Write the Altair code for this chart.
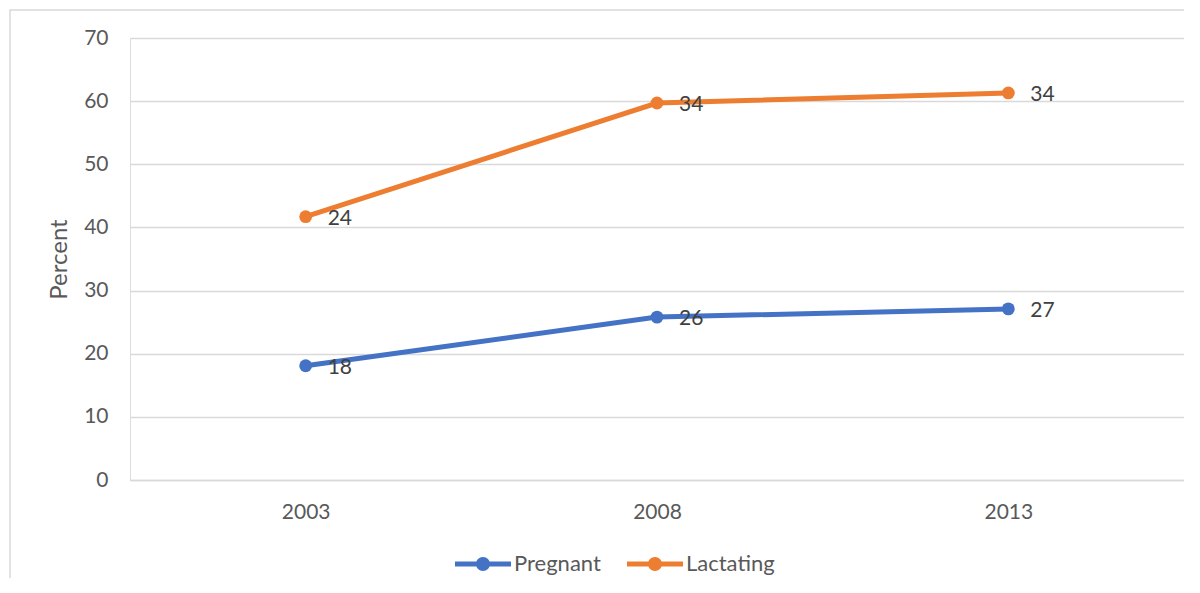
import altair as alt
import pandas as pd

years = ["2003", "2008", "2013"]
series_names = ["Pregnant", "Lactating"]
pregnant = [18.1, 25.8, 27.1]
lactating = [41.7, 59.7, 61.3]
pregnant_labels = ["18", "26", "27"]
lactating_labels = ["24", "34", "34"]
y_ticks = [0, 10, 20, 30, 40, 50, 60, 70]
colors = ["#4472C4", "#ED7D31"]
title_text = "and lactating women"

rows = []
for name, vals, labs in [("Pregnant", pregnant, pregnant_labels), ("Lactating", lactating, lactating_labels)]:
    for yr, v, lb in zip(years, vals, labs):
        rows.append({"Year": yr, "Series": name, "Value": v, "Label": lb})
df = pd.DataFrame(rows)

FONT = "Lato"
legend_path = ("M-1,-0.09L1,-0.09L1,0.09L-1,0.09Z "
               "M0.25,0A0.25,0.25,0,1,1,-0.25,0A0.25,0.25,0,1,1,0.25,0Z")

x_enc = alt.X("Year:N", sort=years, title=None,
              scale=alt.Scale(type="point", padding=0.5),
              axis=alt.Axis(labelAngle=0, labelFontSize=21, labelColor="#595959",
                            labelFont=FONT, labelPadding=21, ticks=False,
                            domainColor="#D9D9D9", domainWidth=1.3, grid=False))
y_enc = alt.Y("Value:Q", title="Percent",
              scale=alt.Scale(domain=[0, 70], nice=False),
              axis=alt.Axis(values=y_ticks, labelFontSize=21, labelColor="#595959",
                            labelFont=FONT, labelPadding=22, ticks=False, domain=False,
                            gridColor="#D9D9D9", gridWidth=1.3,
                            titleFont=FONT, titleFontSize=24, titleColor="#595959",
                            titleFontWeight="normal", titlePadding=12))
color_scale = alt.Scale(domain=series_names, range=colors)
color_legend = alt.Color("Series:N", sort=series_names, scale=color_scale,
                         legend=alt.Legend(title=None, orient="none", direction="horizontal",
                                           legendX=325, legendY=498,
                                           symbolType=legend_path, symbolSize=3136,
                                           symbolStrokeWidth=0, labelFont=FONT,
                                           labelFontSize=22, labelColor="#595959",
                                           labelOffset=3, columnPadding=26))
color_nolegend = alt.Color("Series:N", sort=series_names, scale=color_scale, legend=None)

one = pd.DataFrame({"a": [0]})
border = alt.Chart(one).mark_rect(fill=None, stroke="#D9D9D9", strokeWidth=1.5).encode(
    x=alt.value(-120), y=alt.value(-28), x2=alt.value(3000), y2=alt.value(3000))
title = alt.Chart(one).mark_text(text=title_text, align="left", baseline="alphabetic",
                                 font=FONT, fontSize=26, fontWeight="bold",
                                 color="#000000").encode(
    x=alt.value(-130), y=alt.value(-34))

base = alt.Chart(df)
points = base.mark_point(filled=True, size=165, opacity=1).encode(x=x_enc, y=y_enc, color=color_legend)
lines = base.mark_line(strokeWidth=5).encode(x=x_enc, y=y_enc, color=color_nolegend, detail="Series:N")
labels = base.mark_text(align="left", baseline="middle", dx=22, dy=2, font=FONT,
                        fontSize=21, color="#404040").encode(
    x=x_enc, y=y_enc, text="Label:N")

chart = alt.layer(border, points, lines, labels, title).properties(
    width=1054, height=442,
    autosize=alt.AutoSizeParams(type="none"),
    padding={"left": 122, "top": 30, "right": 0, "bottom": 98},
).configure_view(stroke=None).configure(background="white")

chart.save("out.html", embed_options={"renderer": "svg", "actions": False})
